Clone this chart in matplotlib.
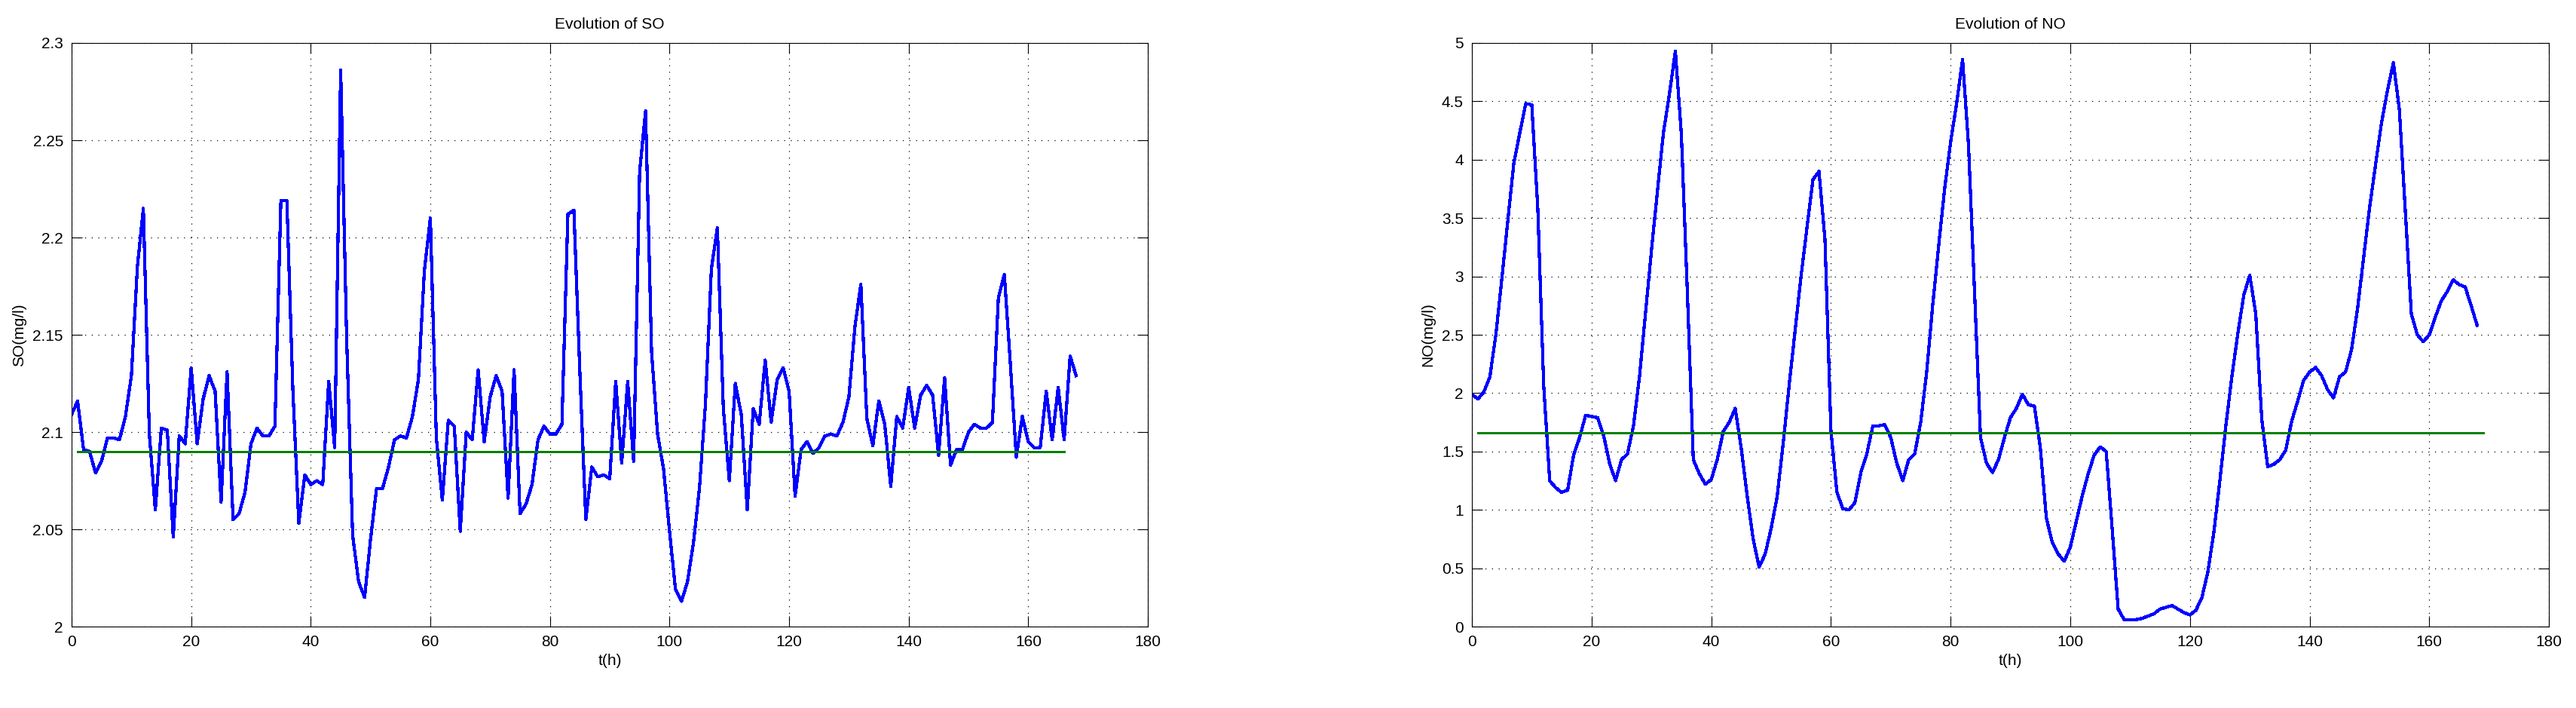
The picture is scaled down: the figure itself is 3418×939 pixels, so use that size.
import numpy as np
import matplotlib
matplotlib.use('Agg')
import matplotlib.pyplot as plt

plt.rcParams['font.family'] = ['Liberation Sans', 'DejaVu Sans']

# hourly time axis
t = np.arange(0, 169)

# SO concentration (mg/l), read hour by hour from the figure
so = [2.109, 2.116, 2.091, 2.090, 2.079, 2.085, 2.097, 2.097, 2.096, 2.108,
      2.129, 2.185, 2.215, 2.099, 2.060, 2.102, 2.101, 2.046, 2.098, 2.094,
      2.133, 2.094, 2.117, 2.129, 2.121, 2.064, 2.131, 2.055, 2.058, 2.069,
      2.094, 2.102, 2.098, 2.098, 2.103, 2.219, 2.219, 2.122, 2.053, 2.078,
      2.073, 2.075, 2.073, 2.126, 2.092, 2.286, 2.148, 2.047, 2.023, 2.015,
      2.045, 2.071, 2.071, 2.082, 2.096, 2.098, 2.097, 2.108, 2.127, 2.183,
      2.210, 2.097, 2.065, 2.106, 2.103, 2.049, 2.100, 2.096, 2.132, 2.095,
      2.118, 2.129, 2.121, 2.066, 2.132, 2.058, 2.063, 2.073, 2.096, 2.103,
      2.099, 2.099, 2.104, 2.212, 2.214, 2.131, 2.055, 2.082, 2.077, 2.078,
      2.076, 2.126, 2.084, 2.126, 2.085, 2.234, 2.265, 2.141, 2.099, 2.081,
      2.049, 2.019, 2.013, 2.023, 2.043, 2.071, 2.114, 2.184, 2.205, 2.112,
      2.075, 2.125, 2.109, 2.060, 2.112, 2.104, 2.137, 2.105, 2.127, 2.133,
      2.121, 2.067, 2.091, 2.095, 2.089, 2.092, 2.098, 2.099, 2.098, 2.105,
      2.118, 2.154, 2.176, 2.107, 2.093, 2.116, 2.104, 2.072, 2.108, 2.102,
      2.123, 2.102, 2.119, 2.124, 2.119, 2.088, 2.128, 2.083, 2.091, 2.091,
      2.100, 2.104, 2.102, 2.102, 2.105, 2.169, 2.181, 2.135, 2.087, 2.108,
      2.095, 2.092, 2.092, 2.121, 2.096, 2.123, 2.096, 2.139, 2.129]

# NO concentration (mg/l)
no = [1.99, 1.95, 2.01, 2.14, 2.50, 2.98, 3.48, 3.97, 4.23, 4.48,
      4.47, 3.59, 2.06, 1.25, 1.19, 1.15, 1.17, 1.47, 1.62, 1.81,
      1.80, 1.79, 1.64, 1.40, 1.25, 1.43, 1.48, 1.72, 2.14, 2.68,
      3.22, 3.73, 4.23, 4.56, 4.93, 4.22, 2.87, 1.43, 1.31, 1.22,
      1.26, 1.43, 1.67, 1.75, 1.87, 1.53, 1.12, 0.75, 0.51, 0.62,
      0.84, 1.11, 1.56, 2.06, 2.53, 3.00, 3.42, 3.83, 3.90, 3.32,
      1.68, 1.15, 1.01, 1.00, 1.06, 1.32, 1.48, 1.72, 1.72, 1.73,
      1.62, 1.40, 1.25, 1.43, 1.48, 1.75, 2.18, 2.75, 3.26, 3.75,
      4.15, 4.48, 4.86, 4.12, 2.87, 1.62, 1.40, 1.32, 1.43, 1.62,
      1.79, 1.87, 1.99, 1.90, 1.89, 1.53, 0.93, 0.72, 0.62, 0.56,
      0.68, 0.90, 1.12, 1.31, 1.47, 1.54, 1.50, 0.84, 0.15, 0.06,
      0.06, 0.06, 0.07, 0.09, 0.11, 0.15, 0.165, 0.18, 0.15, 0.12,
      0.10, 0.14, 0.25, 0.47, 0.81, 1.25, 1.72, 2.14, 2.51, 2.84,
      3.01, 2.68, 1.78, 1.37, 1.39, 1.43, 1.51, 1.76, 1.93, 2.11,
      2.18, 2.22, 2.15, 2.03, 1.96, 2.14, 2.18, 2.37, 2.72, 3.15,
      3.58, 3.95, 4.31, 4.59, 4.83, 4.43, 3.56, 2.68, 2.50, 2.44,
      2.50, 2.65, 2.79, 2.87, 2.97, 2.93, 2.91, 2.75, 2.58]

# reference levels
so_ref = 2.09
so_ref_t = [1, 166]
no_ref = 1.66
no_ref_t = [1, 169]

fig = plt.figure(figsize=(34.18, 9.39), dpi=100)
ax1 = fig.add_axes([0.0278, 0.115, 0.4178, 0.8243])
ax2 = fig.add_axes([0.5714, 0.115, 0.4181, 0.8243])

fs = 15
for ax, y, ref, ref_t, name, ylim, yt in [
        (ax1, so, so_ref, so_ref_t, 'SO', (2, 2.3), np.arange(2, 2.301, 0.05)),
        (ax2, no, no_ref, no_ref_t, 'NO', (0, 5), np.arange(0, 5.01, 0.5))]:
    ax.plot(t, y, color=(0, 0, 1), lw=2.3, antialiased=False)
    ax.plot(ref_t, [ref, ref], color=(0, 0.5, 0), lw=2.0, antialiased=False)
    ax.set_xlim(0, 180)
    ax.set_ylim(*ylim)
    ax.set_xticks(np.arange(0, 181, 20))
    ax.set_yticks(yt)
    ax.set_yticklabels(['%g' % round(v, 2) for v in yt])
    ax.grid(True, color='k', linestyle=(0, (1, 6)), linewidth=0.9)
    ax.tick_params(direction='in', length=10, width=0.8, top=True, right=True,
                   labelsize=fs, pad=8)
    for s in ax.spines.values():
        s.set_linewidth(0.8)
    ax.set_title('Evolution of ' + name, fontsize=fs, pad=14)
    ax.set_xlabel('t(h)', fontsize=fs, labelpad=4)
    ax.set_ylabel(name + '(mg/l)', fontsize=fs, labelpad=6)

fig.savefig('out.png', dpi=100)
